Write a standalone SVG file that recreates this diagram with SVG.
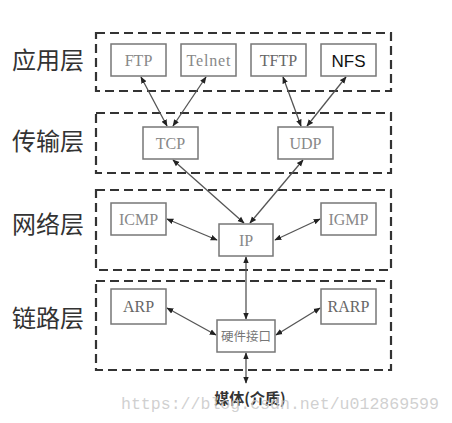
<svg xmlns="http://www.w3.org/2000/svg" width="452" height="423" viewBox="0 0 452 423">
<defs>
<marker id="ah" viewBox="0 0 10 10" refX="9" refY="5" markerWidth="7" markerHeight="7" markerUnits="userSpaceOnUse" orient="auto-start-reverse">
<path d="M0,1 L10,5 L0,9 z" fill="#222"/>
</marker>
<style>
.layer{fill:none;stroke:#333;stroke-width:2.2;stroke-dasharray:9 5}
.box{fill:#fff;stroke:#777;stroke-width:1.5}
.lbl{font-family:"Noto Sans CJK SC","Noto Sans",sans-serif;font-size:24px;fill:#333}
.t{font-family:"Liberation Serif",serif;font-size:16px;fill:#888;text-anchor:middle}
.c{stroke:#555;stroke-width:1.3;fill:none;marker-start:url(#ah);marker-end:url(#ah)}
</style>
</defs>
<rect width="452" height="423" fill="#fff"/>
<g id="layers">
<rect class="layer" x="96" y="33" width="295" height="58"/>
<rect class="layer" x="96" y="113" width="295" height="60"/>
<rect class="layer" x="96" y="190" width="295" height="80"/>
<rect class="layer" x="96" y="281" width="295" height="89"/>
<text class="lbl" x="12" y="69">应用层</text>
<text class="lbl" x="12" y="150">传输层</text>
<text class="lbl" x="12" y="233">网络层</text>
<text class="lbl" x="12" y="327">链路层</text>
</g>
<g id="connectors">
<line class="c" x1="141" y1="77" x2="167" y2="126"/>
<line class="c" x1="206" y1="77" x2="173" y2="126"/>
<line class="c" x1="283" y1="77" x2="301" y2="126"/>
<line class="c" x1="346" y1="77" x2="307" y2="126"/>
<line class="c" x1="173" y1="160" x2="244" y2="223"/>
<line class="c" x1="303" y1="160" x2="250" y2="223"/>
<line class="c" x1="167" y1="219" x2="217" y2="240"/>
<line class="c" x1="320" y1="219" x2="275" y2="240"/>
<line class="c" x1="246" y1="257" x2="246" y2="319"/>
<line class="c" x1="167" y1="308" x2="216" y2="335"/>
<line class="c" x1="320" y1="308" x2="276" y2="335"/>
<line class="c" x1="246" y1="353" x2="246" y2="383"/>
</g>
<g id="ftp"><rect class="box" x="111" y="44" width="55" height="32"/><text class="t" x="138.5" y="65.5">FTP</text></g>
<g id="telnet"><rect class="box" x="181" y="44" width="55" height="32"/><text class="t" x="208.5" y="65.5" textLength="44" lengthAdjust="spacing">Telnet</text></g>
<g id="tftp"><rect class="box" x="251" y="44" width="55" height="32"/><text class="t" x="278.5" y="65.5" style="fill:#666">TFTP</text></g>
<g id="nfs"><rect class="box" x="321" y="44" width="55" height="32"/><text x="348.5" y="66.5" text-anchor="middle" font-family="Liberation Sans, sans-serif" font-size="17" fill="#111">NFS</text></g>
<g id="tcp"><rect class="box" x="143" y="127" width="55" height="32"/><text class="t" x="170.5" y="148.5">TCP</text></g>
<g id="udp"><rect class="box" x="278" y="127" width="55" height="32"/><text class="t" x="305.5" y="148.5">UDP</text></g>
<g id="icmp"><rect class="box" x="111" y="203" width="55" height="32"/><text class="t" x="138.5" y="224.5">ICMP</text></g>
<g id="igmp"><rect class="box" x="321" y="203" width="55" height="32"/><text class="t" x="348.5" y="224.5">IGMP</text></g>
<g id="ip"><rect class="box" x="219" y="224" width="54" height="32"/><text class="t" x="246" y="245.5">IP</text></g>
<g id="arp"><rect class="box" x="111" y="289" width="55" height="35"/><text class="t" x="138.5" y="311.5" style="fill:#666">ARP</text></g>
<g id="rarp"><rect class="box" x="321" y="289" width="55" height="35"/><text class="t" x="348.5" y="311.5" style="fill:#666">RARP</text></g>
<g id="hw"><rect class="box" x="217" y="320" width="58" height="32"/><text x="246" y="341" text-anchor="middle" font-family="Noto Sans CJK SC, sans-serif" font-size="12.5" fill="#777">硬件接口</text></g>
<g id="media"><text x="250" y="404" text-anchor="middle" font-family="Noto Sans CJK SC, sans-serif" font-size="15" font-weight="bold" fill="#333">媒体(介质)</text></g>
<text x="121" y="409" font-family="Liberation Mono, monospace" font-size="16.6" fill="#c8c8c8" fill-opacity="0.85" textLength="318">https://blog.csdn.net/u012869599</text>
</svg>
